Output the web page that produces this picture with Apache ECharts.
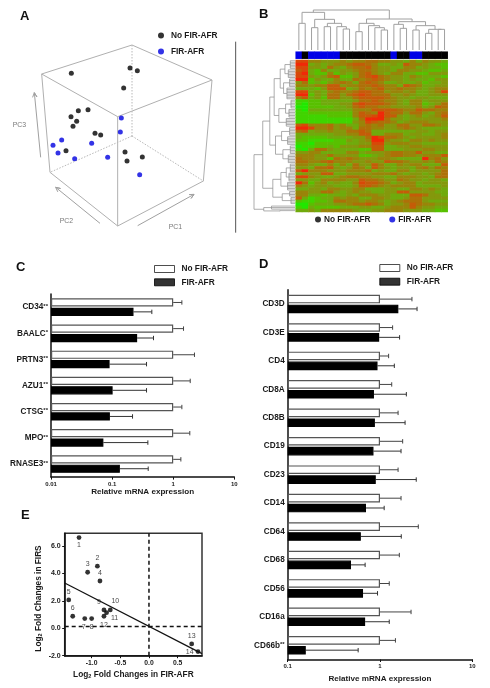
<!DOCTYPE html>
<html><head><meta charset="utf-8">
<style>html,body{margin:0;padding:0;background:#fff}#c{width:490px;height:688px}</style>
<script src="https://cdn.jsdelivr.net/npm/echarts@6/dist/echarts.min.js"></script>
</head><body><div id="c"></div>
<script>
// ---------- Panel A: projected PCA scores (picture read-off units, 0-720 on both axes)
const pcaNo = [[214,220],[390,204],[412,212],[371,264],[264,329],[235,332],[213,350],[230,364],[219,379],[285,400],[302,405],[198,452],[375,456],[427,471],[381,483]];
const pcaFir = [[364,354],[361,396],[185,420],[159,436],[275,430],[174,459],[224,476],[323,472],[419,524]];
const cubeSolid = [[125,222,396,135],[396,135,636,240],[636,240,353,350],[353,350,125,222],[353,350,353,678],[125,222,150,517],[636,240,610,543],[150,517,353,678],[353,678,610,543]];
const cubeDotted = [[396,135,396,408],[396,408,150,517],[396,408,610,543]];
const pcArrows = [[122,472,103,278],[300,670,167,562],[413,677,582,583]];
const pcNames = [['PC3',58,374],['PC2',199,662],['PC1',526,680]];
const divider = [[707,125,707,698]];

// ---------- Panel B: heatmap (0 = green ... 9 = red), sample group bar, dendrograms
const sampleGroups = [1,0,1,1,1,1,1,0,0,0,0,0,0,0,0,1,0,0,1,1,0,0,0,0];
const heatRows = [
"885544454556655443535443","993434556776533437554322","884436435667544335534332","783253344566544355443223",
"893225243467543553322444","884346722467865443543332","992433533656765443433244","462324565367653343342334",
"554557745566765537653344","333247773465675565543455","883435655677664554533458","992436646787666445433444",
"573426644677776544344333","112233333466765543553444","102233344787776543552346","002222334676655444453476",
"103333333555777765576655","112222222576597664664356","111112222577897743453457","111111111369996443444445",
"111111111458766534555444","785556453356564466446654","998556455366554456543333","673445446676333333344344",
"333333445577335553443345","322223333446986654344445","221111224345995443554544","110222223344884555443333",
"011223244455773344554444","103664333322773334445544","445533335534445665574433","555446444422345665545557",
"655442656544455433339564","665567555445447665445465","554335353644753354553337","443667434653754344356465",
"795554445556343355344446","344477334444555643443456","885433456655443355544366","443355554476654465443443",
"962453433587765345534444","543444333477654555533334","334435544553334433554543","554466434544334477444433",
"553323334355544333776443","731233545533554334664444","211223665545543456664333","002333445667653445765544",
"103222233344334555754433","334355555433445554443322"];
const colTree = [120,
  [113,[80,0,1],[92,[67,2,3],[80,[70,4,5],[70,6,[63,7,8]]]]],
  [93,[80,[55,9,10],[73,11,[67,12,[60,13,14]]]],
      [85,[77,15,[65,16,17]],[73,[60,18,19],[62,[50,20,21],[62,22,23]]]]]];
const R = (from,to,h)=>['r',from,to,h];
const rowTree = [122,
  [96,
    [75,
      [62,[44,[30,R(0,3,14),R(3,6,20)],[34,R(6,9,16),R(9,13,24)]],
          [48,[28,R(13,16,12),R(16,19,18)],R(19,22,26)]],
      [58,[40,R(22,25,16),R(25,28,22)],[36,R(28,31,14),R(31,34,20)]]],
    [66,[42,[26,R(34,37,14),R(37,40,18)],R(40,43,22)],[38,R(43,45,16),R(45,47.5,12)]]],
  [93,R(47.8,49.3,70),R(49.3,50,45)]];

// ---------- Panel C
const catsC = ['CD34**','BAALC*','PRTN3**','AZU1**','CTSG**','MPO**','RNASE3**'];
const noC = [1,1,1,1,1,1,1];
const noErrC = [1.386,1.476,2.23,1.90,1.386,1.87,1.335];
const firC = [0.224,0.257,0.091,0.102,0.092,0.072,0.134];
const firErrC = [0.447,0.476,0.366,0.366,0.216,0.385,0.39];

// ---------- Panel D
const catsD = ['CD3D','CD3E','CD4','CD8A','CD8B','CD19','CD23','CD14','CD64','CD68','CD56','CD16a','CD66b**'];
const noD = [1,1,1,1,1,1,1,1,1,1,1,1,1];
const noErrD = [2.22,1.37,1.24,1.34,1.57,1.76,1.57,1.69,2.60,1.62,1.26,2.17,1.47];
const firD = [1.58,0.98,0.94,0.86,0.88,0.85,0.90,0.705,0.62,0.485,0.655,0.69,0.157];
const firErrD = [2.52,1.63,1.43,1.93,1.87,1.69,2.47,1.11,1.70,0.69,0.94,1.26,0.58];

// ---------- Panel E
const foldFirAfr = [-1.22,-0.90,-1.07,-0.855,-1.40,-1.33,-1.12,-1.00,-0.785,-0.675,-0.74,-0.785,0.745,0.855];
const foldFirs = [6.62,4.53,4.09,3.45,2.07,0.88,0.71,0.71,1.34,1.34,1.14,0.88,-1.14,-1.70];
const geneNumbers = ['1','2','3','4','5','6','7','8','9','10','11','12','13','14'];
const fitLine = [[-1.47,3.3],[0.925,-1.85]];
const eTicksX = [-1,-0.5,0,0.5];
const eTicksY = [-2,0,2,4,6];
const NO = 'No FIR-AFR', FIR = 'FIR-AFR';

const BOLD = {fontFamily:'Liberation Sans',fontWeight:'bold',color:'#1a1a1a'};

function layoutTree(node, segs){
  if (typeof node === 'number') return {pos:node+0.5,h:0};
  if (node[0]==='r'){
    const [,from,to,h]=node;
    segs.push([from+0.25,h,to-0.25,h]);
    for(let r=from+0.25;r<to;r+=0.5) segs.push([r,h,r,0]);
    return {pos:(from+to)/2,h};
  }
  const [h,a,b]=node, A=layoutTree(a,segs), B=layoutTree(b,segs);
  segs.push([A.pos,A.h,A.pos,h],[B.pos,B.h,B.pos,h],[A.pos,h,B.pos,h]);
  return {pos:(A.pos+B.pos)/2,h};
}
const colSegs=[]; layoutTree(colTree,colSegs);
const rowSegsRaw=[]; layoutTree(rowTree,rowSegsRaw);
const rowSegs=rowSegsRaw.map(s=>[s[1],s[0],s[3],s[2]]);

function segSeries(gi,segs,stroke,width,dash){
  return {type:'custom',coordinateSystem:'cartesian2d',xAxisIndex:gi,yAxisIndex:gi,silent:true,clip:false,
    encode:{x:[0,2],y:[1,3]},data:segs,
    renderItem:(p,api)=>{
      const a=api.coord([api.value(0),api.value(1)]),b=api.coord([api.value(2),api.value(3)]);
      return {type:'line',shape:{x1:a[0],y1:a[1],x2:b[0],y2:b[1]},style:{stroke,lineWidth:width,lineDash:dash||null,fill:null}};
    }};
}
function arrowSeries(gi,segs,stroke){
  return {type:'custom',coordinateSystem:'cartesian2d',xAxisIndex:gi,yAxisIndex:gi,silent:true,clip:false,
    encode:{x:[0,2],y:[1,3]},data:segs,
    renderItem:(p,api)=>{
      const a=api.coord([api.value(0),api.value(1)]),b=api.coord([api.value(2),api.value(3)]);
      const t=Math.atan2(b[1]-a[1],b[0]-a[0]),L=5,w=0.45;
      return {type:'polyline',shape:{points:[a,b,[b[0]-L*Math.cos(t-w),b[1]-L*Math.sin(t-w)],b,[b[0]-L*Math.cos(t+w),b[1]-L*Math.sin(t+w)]]},
        style:{stroke,lineWidth:1,fill:null}};
    }};
}
function errSeries(gi,base,err,cats,off,stroke){
  return {type:'custom',coordinateSystem:'cartesian2d',xAxisIndex:gi,yAxisIndex:gi,silent:true,clip:false,z:1,
    encode:{x:[0,1],y:2},data:base.map((v,i)=>[v,err[i],cats[i]]),
    renderItem:(p,api)=>{
      const a=api.coord([api.value(0),p.dataIndex]),b=api.coord([api.value(1),p.dataIndex]);
      const y=a[1]+off;
      return {type:'group',children:[
        {type:'line',shape:{x1:a[0],y1:y,x2:b[0],y2:y},style:{stroke,lineWidth:1}},
        {type:'line',shape:{x1:b[0],y1:y-2.2,x2:b[0],y2:y+2.2},style:{stroke,lineWidth:1}}]};
    }};
}
function barSeries(gi,name,data,fill,stroke,bw){
  return {type:'bar',name,xAxisIndex:gi,yAxisIndex:gi,data,barWidth:bw,barGap:'15%',z:2,silent:true,
    itemStyle:{color:fill,borderColor:stroke,borderWidth:1.2}};
}
function hiddenX(min,max,inverse){return {type:'value',show:false,min,max,inverse:!!inverse};}
function hiddenY(min,max,inverse){return {type:'value',show:false,min,max,inverse:!!inverse};}
function catLabel(v){
  const m=v.match(/^([^*]+)(\*+)$/);
  return m?`{n|${m[1]}}{s|${m[2]}}`:`{n|${v}}`;
}
function logX(min,max,nameGap){
  return {type:'log',logBase:10,min,max,startValue:min,name:'Relative mRNA expression',nameLocation:'middle',nameGap,
    nameTextStyle:{...BOLD,fontSize:8.1},
    axisLine:{show:true,lineStyle:{color:'#111',width:1.5}},
    axisTick:{show:true,length:2.5,lineStyle:{color:'#111',width:1}},
    minorTick:{show:false},splitLine:{show:false},minorSplitLine:{show:false},
    axisLabel:{...BOLD,fontSize:6,margin:4,formatter:v=>String(+(+v).toPrecision(1)),hideOverlap:false}};
}
function catY(cats){
  return {type:'category',data:cats,inverse:true,
    axisLine:{show:true,lineStyle:{color:'#111',width:1.5}},axisTick:{show:false},splitLine:{show:false},
    axisLabel:{margin:3,interval:0,formatter:catLabel,rich:{n:{...BOLD,fontSize:8.2},s:{...BOLD,fontSize:6,verticalAlign:'top'}}}};
}
const iconLegend=(left,top,orient,itemGap,itemWidth,pad)=>({left,top,orient,itemGap,itemWidth,padding:0,selectedMode:false,itemHeight:6,
  textStyle:{...BOLD,fontSize:8.3,padding:pad||0},
  data:[{name:NO,icon:'circle',itemStyle:{color:'#000',borderWidth:0}},{name:FIR,icon:'circle',itemStyle:{color:'#0000e0',borderWidth:0}}]});
const rectLegend=(left,top,gap)=>({left,top,orient:'vertical',itemGap:gap,padding:0,selectedMode:false,itemWidth:20,itemHeight:7,
  textStyle:{...BOLD,fontSize:8.3,padding:[0,0,0,2]},
  data:[{name:NO,icon:'rect',itemStyle:{color:'#fff',borderColor:'#222',borderWidth:1}},{name:FIR,icon:'rect',itemStyle:{color:'#000',borderColor:'#000',borderWidth:1}}]});
const letter=(text,left,top)=>({text,left,top,padding:0,textStyle:{fontFamily:'Liberation Sans',fontWeight:'bold',fontSize:13,color:'#111'}});
const sub={fontFamily:'Liberation Sans',fontWeight:'bold',fontSize:5.5,color:'#1a1a1a',verticalAlign:'bottom',padding:[3,0,0,0]};

const heatData=[];
heatRows.forEach((row,r)=>{[...row].forEach((d,c)=>heatData.push([c,r,+d]));});
const groupData=sampleGroups.map((g,c)=>({value:[c,0,g],itemStyle:{color:g?'#0000e6':'#000'}}));
const cols=sampleGroups.map((_,i)=>String(i));
const rows=heatRows.map((_,i)=>String(i));

const labelSpec={
 '1':{position:'bottom'},'2':{position:'top'},'3':{position:'top'},'4':{position:'top'},'5':{position:'top'},'6':{position:'top'},
 '7':{position:'bottom',offset:[-1,1]},'8':{position:'bottom',offset:[0,1]},'9':{position:'top',offset:[-5,0]},'10':{position:'top',offset:[5,-1]},
 '11':{position:'right',offset:[0,5]},'12':{position:'bottom',offset:[0,1]},'13':{position:'top'},'14':{position:'left',offset:[0,0]}};

const option={
  animation:false,backgroundColor:'#fff',textStyle:{fontFamily:'Liberation Sans'},
  title:[letter('A',20,10),letter('B',259,8),letter('C',16,261),letter('D',259,258),letter('E',21,509)],
  legend:[iconLegend(158,31.5,'vertical',8,10),iconLegend(315,215.5,'horizontal',18.7,6,[0,0,0,-2]),rectLegend(154,265,5.3),rectLegend(379.3,264,5.7)],
  grid:[
    {left:0,top:0,width:240,height:240},
    {left:295.7,top:10,width:152,height:40},
    {left:295.7,top:51.7,width:152,height:7},
    {left:295.7,top:60,width:152,height:152},
    {left:254,top:60,width:41,height:152},
    {left:51,top:294.1,width:183.3,height:183},
    {left:287.7,top:289.8,width:184.6,height:369.7},
    {left:64.7,top:533.3,width:137.3,height:122.4,show:true,borderColor:'#333',borderWidth:1.5}
  ],
  xAxis:[
    hiddenX(0,720),hiddenX(0,24),
    {type:'category',data:cols,show:false},
    {type:'category',data:cols,show:false},
    hiddenX(0,122,true),
    logX(0.01,10,11),
    logX(0.1,10,10.5),
    {type:'value',min:-1.47,max:0.925,name:'Log{s|2} Fold Changes in FIR-AFR',nameLocation:'middle',nameGap:14.5,
      nameTextStyle:{...BOLD,fontSize:8.3,rich:{s:sub}},
      axisLine:{show:true,onZero:false,lineStyle:{color:'#111',width:1.5}},splitLine:{show:false},
      axisTick:{show:true,length:2.5,customValues:eTicksX,lineStyle:{color:'#111'}},
      axisLabel:{...BOLD,fontSize:6.8,margin:4,customValues:eTicksX,formatter:v=>(+v).toFixed(1)}}
  ].map((a,i)=>({gridIndex:i,...a})),
  yAxis:[
    hiddenY(0,720,true),hiddenY(0,120),
    {type:'category',data:['g'],show:false},
    {type:'category',data:rows,show:false,inverse:true},
    hiddenY(0,50,true),
    catY(catsC),catY(catsD),
    {type:'value',min:-2,max:6.93,name:'Log{s|2} Fold Changes in FIRS',nameLocation:'middle',nameGap:21,
      nameTextStyle:{...BOLD,fontSize:8.3,rich:{s:sub},padding:[0,8,0,0]},
      axisLine:{show:true,onZero:false,lineStyle:{color:'#111',width:1.5}},splitLine:{show:false},
      axisTick:{show:true,length:2.5,customValues:eTicksY,lineStyle:{color:'#111'}},
      axisLabel:{...BOLD,fontSize:7,margin:4,customValues:eTicksY,formatter:v=>(+v).toFixed(1)}}
  ].map((a,i)=>({gridIndex:i,...a})),
  visualMap:[{type:'continuous',show:false,seriesIndex:[0],min:0,max:9,
    inRange:{color:['#20e800','#40d400','#58c000','#70aa0c','#84980c','#9a8409','#ae7008','#c45c08','#d84808','#f02808']}}],
  series:[
    {type:'heatmap',xAxisIndex:3,yAxisIndex:3,data:heatData,silent:true,progressive:0,itemStyle:{borderWidth:0}},
    {type:'heatmap',xAxisIndex:2,yAxisIndex:2,data:groupData,silent:true,itemStyle:{borderWidth:0}},
    segSeries(1,colSegs,'#a0a0a0',1),
    segSeries(4,rowSegs,'#8a8a8a',0.7),
    segSeries(0,cubeSolid,'#b0b0b0',1),
    segSeries(0,cubeDotted,'#b8b8b8',1,[1.5,1.5]),
    segSeries(0,divider,'#555',1),
    arrowSeries(0,pcArrows,'#a0a0a0'),
    {type:'scatter',xAxisIndex:0,yAxisIndex:0,silent:true,symbolSize:0,
      data:pcNames.map(n=>({value:[n[1],n[2]],name:n[0]})),
      label:{show:true,position:'inside',formatter:'{b}',fontFamily:'Liberation Sans',fontSize:6.9,color:'#555'}},
    {type:'scatter',name:NO,xAxisIndex:0,yAxisIndex:0,data:pcaNo,symbolSize:5,silent:true,itemStyle:{color:'#000'}},
    {type:'scatter',name:FIR,xAxisIndex:0,yAxisIndex:0,data:pcaFir,symbolSize:5,silent:true,itemStyle:{color:'#0000e0'}},
    barSeries(5,NO,noC,'#fff','#555',8.2),
    barSeries(5,FIR,firC,'#000','#000',8.2),
    errSeries(5,noC,noErrC,catsC,-4.7,'#444'),
    errSeries(5,firC,firErrC,catsC,4.7,'#333'),
    barSeries(6,NO,noD,'#fff','#555',8.6),
    barSeries(6,FIR,firD,'#000','#000',8.6),
    errSeries(6,noD,noErrD,catsD,-4.9,'#444'),
    errSeries(6,firD,firErrD,catsD,4.9,'#333'),
    segSeries(7,[[0,-2,0,6.93]],'#111',1.5,[4,3]),
    segSeries(7,[[-1.47,0.13,0.925,0.13]],'#111',1.5,[4,3]),
    {type:'line',xAxisIndex:7,yAxisIndex:7,data:fitLine,showSymbol:false,silent:true,lineStyle:{color:'#111',width:1.2}},
    {type:'scatter',xAxisIndex:7,yAxisIndex:7,symbolSize:4.8,silent:true,clip:false,itemStyle:{color:'#000'},
      data:foldFirAfr.map((x,i)=>({value:[x,foldFirs[i]],label:{show:true,distance:2,formatter:geneNumbers[i],
        fontFamily:'Liberation Sans',fontSize:7,color:'#111',...labelSpec[geneNumbers[i]]}}))}
  ]
};
const chart=echarts.init(document.getElementById('c'),null,{renderer:'canvas'});
chart.setOption(option);
</script></body></html>
